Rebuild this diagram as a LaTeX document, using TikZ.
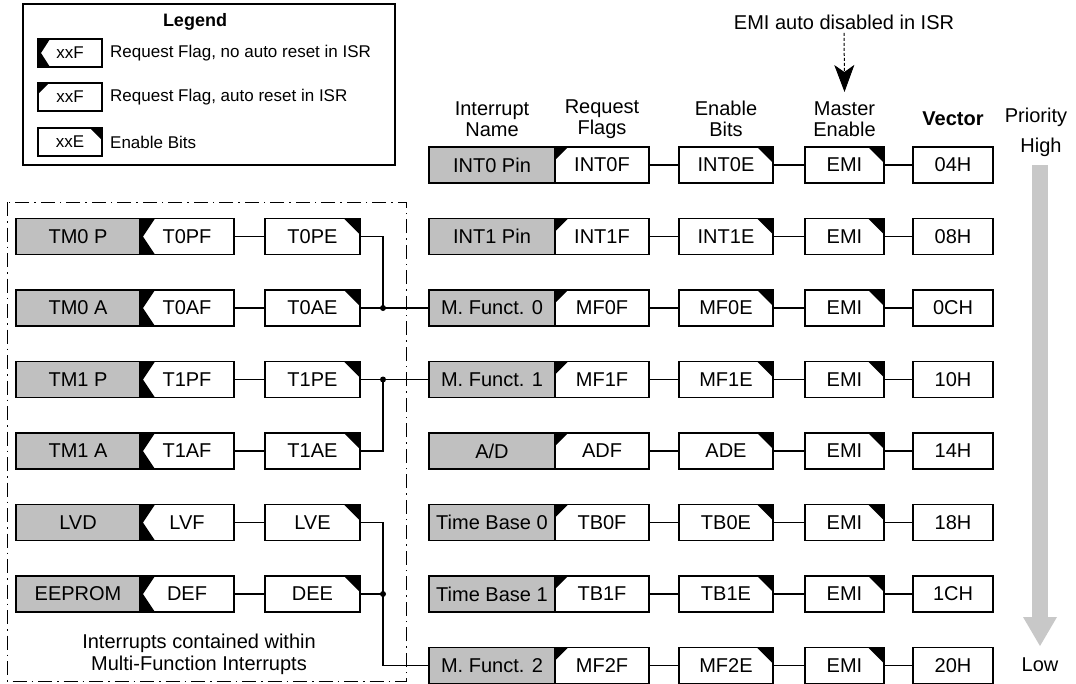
\documentclass[tikz,border=0pt]{standalone}
\usepackage{fontspec}
\setmainfont{Liberation Sans}
\usetikzlibrary{arrows.meta}

\tikzset{
    box/.style={draw, line width=1.2pt, inner sep=0pt, minimum height=36pt, font=\fontsize{20}{20}\selectfont},
    nameBox/.style={box, fill=boxGrey, minimum width=126pt},
    vecBox/.style={box, fill=white, minimum width=80pt},
    flagAuto/.style={box, fill=white, minimum width=94pt,
        path picture={\fill[black] (path picture bounding box.north west) -- ([xshift=#1]path picture bounding box.north west) -- ([yshift=-#1]path picture bounding box.north west) -- cycle;}},
    flagAuto/.default=13pt,
    flagHold/.style={box, fill=white, minimum width=94pt,
        path picture={\fill[black] (path picture bounding box.north west) -- ([xshift=#1]path picture bounding box.north west) -- ([xshift=3pt]path picture bounding box.west) -- ([xshift=#1]path picture bounding box.south west) -- (path picture bounding box.south west) -- cycle;}},
    flagHold/.default=15pt,
    enBox/.style={box, fill=white, minimum width=94pt,
        path picture={\fill[black] (path picture bounding box.north east) -- ([xshift=-#1]path picture bounding box.north east) -- ([yshift=-#1]path picture bounding box.north east) -- cycle;}},
    enBox/.default=16pt,
    legendBox/.style={minimum width=64pt, minimum height=28pt, font=\fontsize{17}{17}\selectfont},
    legendText/.style={anchor=west, inner sep=0pt, font=\fontsize{17}{17}\selectfont},
    headText/.style={align=center, font=\fontsize{20}{21}\selectfont},
    wire/.style={line width=1.2pt},
}

\begin{document}
\begin{tikzpicture}[x=1pt, y=-1pt]
    \definecolor{boxGrey}{HTML}{C0C0C0}
    \definecolor{arrowGrey}{HTML}{C8C8C8}

    \useasboundingbox (0,0) rectangle (1076,683);

    % Legend
    \draw[line width=1.2pt] (23,4) rectangle (395,165);
    \node[font=\fontsize{18}{18}\selectfont\bfseries] (lgTitle) at (195,22) {Legend};
    \node[flagHold=12pt, legendBox] (lgHold) at (70,53) {xxF};
    \node[legendText] (lgHoldTxt) at (110,53) {Request Flag, no auto reset in ISR};
    \node[flagAuto=11pt, legendBox] (lgAuto) at (70,97) {xxF};
    \node[legendText] (lgAutoTxt) at (110,97) {Request Flag, auto reset in ISR};
    \node[enBox=12pt, legendBox] (lgEn) at (70,142) {xxE};
    \node[legendText] (lgEnTxt) at (110,142) {Enable Bits};

    % Column headings
    \node[headText] (hName) at (492,119) {Interrupt\\Name};
    \node[headText] (hFlag) at (602,119) {Request\\Flags};
    \node[headText] (hEn) at (726,119) {Enable\\Bits};
    \node[headText] (hMaster) at (844.5,119) {Master\\Enable};
    \node[headText, font=\fontsize{20}{21}\selectfont\bfseries] (hVec) at (953,119) {Vector};
    \node[headText] (hPrio) at (1036,117) {Priority};
    \node[headText] (hHigh) at (1041,147) {High};
    \node[headText] (hLow) at (1040,665) {Low};

    % EMI note
    \node[headText] (emiNote) at (844,22) {EMI auto disabled in ISR};
    \coordinate (emiTip) at (844.5,92);
    \draw[line width=1pt, dash pattern=on 3pt off 2pt, -{Stealth[length=27pt, width=20pt, inset=7pt]}] (emiNote) -- (emiTip);

    % Priority arrow
    \fill[arrowGrey] (1032,165) rectangle (1048,617);
    \fill[arrowGrey] (1023,617) -- (1057,617) -- (1040,646) -- cycle;

    % Main interrupt rows
    \foreach \i/\nm/\fl/\en/\vc in {1/INT0 Pin/INT0F/INT0E/04H, 2/INT1 Pin/INT1F/INT1E/08H,
        3/M. Funct. 0/MF0F/MF0E/0CH, 4/M. Funct. 1/MF1F/MF1E/10H, 5/{A/D}/ADF/ADE/14H,
        6/Time Base 0/TB0F/TB0E/18H, 7/Time Base 1/TB1F/TB1E/1CH, 8/M. Funct. 2/MF2F/MF2E/20H} {
        \pgfmathsetmacro\ry{165+71.5*(\i-1)}
        \node[nameBox] (n\i) at (492,\ry) {\nm};
        \node[flagAuto] (f\i) at (602,\ry) {\fl};
        \node[enBox] (e\i) at (726,\ry) {\en};
        \node[enBox, minimum width=79pt] (m\i) at (844.5,\ry) {EMI};
        \node[vecBox] (v\i) at (953,\ry) {\vc};
        \draw[wire] (f\i) -- (e\i);
        \draw[wire] (e\i) -- (m\i);
        \draw[wire] (m\i) -- (v\i);
    }

    % Multi-function sources
    \draw[line width=1pt, dash pattern=on 14pt off 5pt on 1.5pt off 5pt] (7,202) rectangle (406,681);
    \foreach \i/\nm/\fl/\en in {2/TM0 P/T0PF/T0PE, 3/TM0 A/T0AF/T0AE, 4/TM1 P/T1PF/T1PE,
        5/TM1 A/T1AF/T1AE, 6/LVD/LVF/LVE, 7/EEPROM/DEF/DEE} {
        \pgfmathsetmacro\ry{165+71.5*(\i-1)}
        \node[nameBox, minimum width=124pt] (ln\i) at (78,\ry) {\nm};
        \node[flagHold] (lf\i) at (187,\ry) {\fl};
        \node[enBox, minimum width=95pt] (le\i) at (312.5,\ry) {\en};
        \draw[wire] (lf\i) -- (le\i);
    }
    \node[headText, font=\fontsize{20}{22}\selectfont] (mfNote) at (199,654) {Interrupts contained within\\Multi-Function Interrupts};

    % Merge into multi-function vectors
    \coordinate (jA) at (383,308);
    \coordinate (jB) at (383,379.5);
    \coordinate (jC) at (383,594);
    \draw[wire] (le2.east) -| (jA);
    \draw[wire] (le3.east) -- (n3.west);
    \fill (jA) circle (3pt);
    \draw[wire] (le4.east) -- (n4.west);
    \draw[wire] (le5.east) -| (jB);
    \fill (jB) circle (3pt);
    \draw[wire] (le6.east) -| (jC) |- (n8.west);
    \draw[wire] (le7.east) -- (jC);
    \fill (jC) circle (3pt);

\end{tikzpicture}
\end{document}
